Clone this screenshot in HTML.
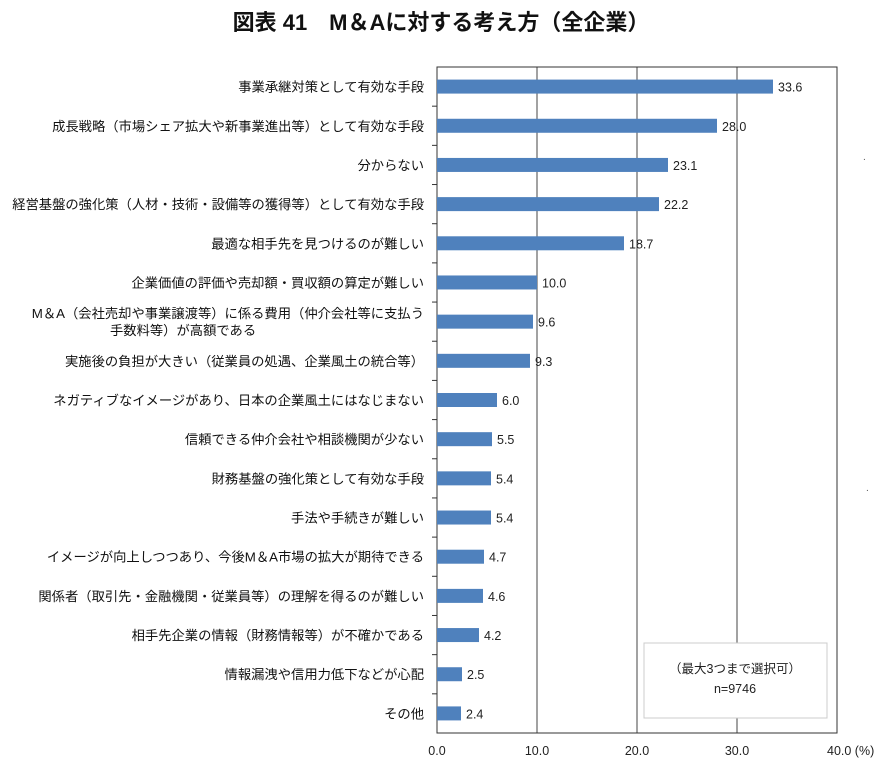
<!DOCTYPE html>
<html><head><meta charset="utf-8"><style>
body{margin:0;background:#fff;}
svg text{font-family:"Liberation Sans","Noto Sans CJK JP",sans-serif;}
</style></head><body>
<svg width="883" height="764" xmlns="http://www.w3.org/2000/svg">
<text x="441" y="30" text-anchor="middle" font-size="22" font-weight="bold" fill="#111">図表 41　M＆Aに対する考え方（全企業）</text>
<g id="grid"></g><g id="bars"></g><g id="labels"></g><g id="xt"></g>
<rect x="644" y="643" width="183" height="75" fill="#fff" stroke="#ccc"/>
<text x="735" y="673" text-anchor="middle" font-size="12.5" fill="#222">（最大3つまで選択可）</text>
<text x="735" y="693" text-anchor="middle" font-size="12.5" fill="#222">n=9746</text>
<text x="863" y="160" font-size="10" fill="#555">.</text>
<text x="866" y="491" font-size="10" fill="#555">.</text>
</svg>
<script>
const categories=["事業承継対策として有効な手段","成長戦略（市場シェア拡大や新事業進出等）として有効な手段","分からない","経営基盤の強化策（人材・技術・設備等の獲得等）として有効な手段","最適な相手先を見つけるのが難しい","企業価値の評価や売却額・買収額の算定が難しい","M＆A（会社売却や事業譲渡等）に係る費用（仲介会社等に支払う|手数料等）が高額である","実施後の負担が大きい（従業員の処遇、企業風土の統合等）","ネガティブなイメージがあり、日本の企業風土にはなじまない","信頼できる仲介会社や相談機関が少ない","財務基盤の強化策として有効な手段","手法や手続きが難しい","イメージが向上しつつあり、今後M＆A市場の拡大が期待できる","関係者（取引先・金融機関・従業員等）の理解を得るのが難しい","相手先企業の情報（財務情報等）が不確かである","情報漏洩や信用力低下などが心配","その他"];
const values=[33.6,28.0,23.1,22.2,18.7,10.0,9.6,9.3,6.0,5.5,5.4,5.4,4.7,4.6,4.2,2.5,2.4];
const ticks=[0,10,20,30,40];
const L=437,R=837,T=67,B=733,MAX=40;
const NS="http://www.w3.org/2000/svg";
const x=v=>L+(R-L)*v/MAX;
const band=(B-T)/categories.length;
const y=i=>T+band*(i+0.5);
function mk(p,t,a){const e=document.createElementNS(NS,t);for(const k in a)e.setAttribute(k,a[k]);document.getElementById(p).appendChild(e);return e;}
ticks.forEach((t,i)=>{
 if(i>0&&i<ticks.length-1){const g=mk('grid','line',{x1:x(t),x2:x(t),y1:T,y2:B,stroke:'#444','stroke-width':1});
 
 }
 const tx=mk('xt','text',{x:x(t),y:B+22,'text-anchor':'middle','font-size':12.5,fill:'#222'});
 tx.textContent=t.toFixed(1)+(i==ticks.length-1?' (%)':'');
 if(i==ticks.length-1){tx.setAttribute('x',x(t)-10);tx.setAttribute('text-anchor','start');}
 
 
});
const fr=mk('grid','rect',{x:L,y:T,width:R-L,height:B-T,fill:'none',stroke:'#333','stroke-width':1});


for(let i=1;i<categories.length;i++){const tk=mk('grid','line',{x1:L-5,x2:L,y1:T+band*i,y2:T+band*i,stroke:'#333'});
 
 }
values.forEach((v,i)=>{
 const r=mk('bars','rect',{x:L,y:y(i)-7,width:x(v)-L,height:14,fill:'#4f81bd'});
 
 
 const t=mk('bars','text',{x:x(v)+5,y:y(i)+5,'font-size':12.5,fill:'#222'});
 t.textContent=v.toFixed(1);
 
 
 const parts=categories[i].split('|');
 parts.forEach((p,j)=>{
  const c=mk('labels','text',{x:424,y:y(i)+5+(parts.length>1?(j-0.5)*17:0),'text-anchor':'end','font-size':13.3,fill:'#111'});
  c.textContent=p;
  
  
 });
 if(parts.length>1){const last=document.getElementById('labels').lastChild;last.setAttribute('text-anchor','start');last.setAttribute('x',110);}
});
</script>
</body></html>
